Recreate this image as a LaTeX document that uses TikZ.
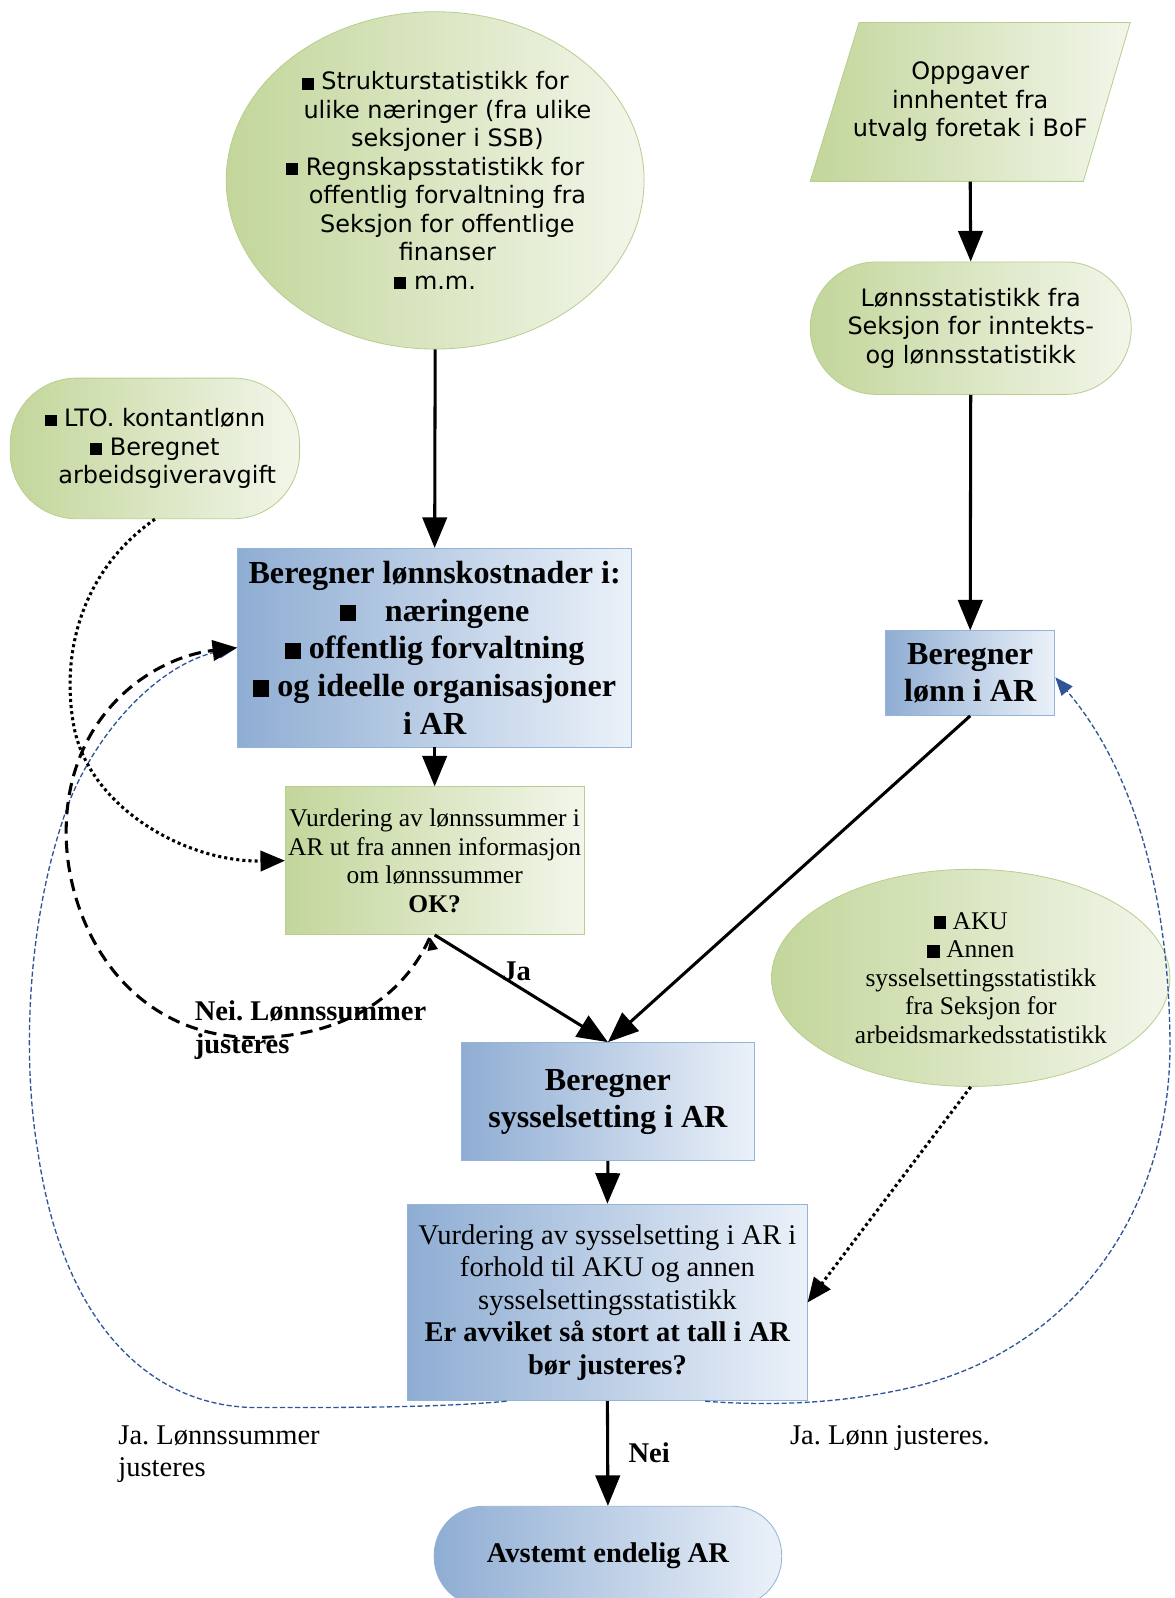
\documentclass[tikz,border=0pt]{standalone}
\usepackage{fontspec}
\setmainfont{Liberation Serif}
\newfontfamily\sansf{DejaVu Sans}
\usetikzlibrary{arrows.meta,shapes.geometric}
\definecolor{gL}{HTML}{C3D69B}
\definecolor{gR}{HTML}{F2F6EA}
\definecolor{gB}{HTML}{B9CE8E}
\definecolor{bL}{HTML}{8FADD3}
\definecolor{bR}{HTML}{EBF1F9}
\definecolor{bB}{HTML}{95B3D7}
\definecolor{dblue}{HTML}{2F5597}
\newcommand{\bul}{\rule{0.5em}{0.5em}}
\newcommand{\rs}[1]{\hspace*{#1}}
\frenchspacing
\begin{document}
\begin{tikzpicture}[x=1pt,y=-1pt,
  greenfill/.style={left color=gL,right color=gR,draw=gB,line width=0.8pt},
  bluefill/.style={left color=bL,right color=bR,draw=bB,line width=0.8pt},
  sanstxt/.style={font=\sansf\fontsize{23.5}{28}\selectfont,align=center},
  sertxt/.style={font=\fontsize{25}{28}\selectfont,align=center},
  bigbold/.style={font=\bfseries\fontsize{31.5}{37}\selectfont,align=center},
  box/.style={rectangle,inner sep=0pt},
  mainarrow/.style={line width=3pt,-{Triangle[length=30pt,width=24pt]}},
  dotarrow/.style={line width=3pt,dash pattern=on 3pt off 3pt,-{Triangle[length=24pt,width=20pt]}},
  dasharrow/.style={line width=3pt,dash pattern=on 12pt off 7pt,-{Triangle[length=24pt,width=20pt]}},
  bluearrow/.style={draw=dblue,line width=1.3pt,dash pattern=on 5pt off 2.5pt,-{Triangle[length=18pt,width=14pt]}},
  lbl/.style={font=\fontsize{28}{32}\selectfont,align=left,inner sep=0pt},
]
\useasboundingbox (0,0) rectangle (1152,1568);

% green sources
\node (top) [ellipse,inner sep=0pt,greenfill,minimum width=410pt,minimum height=331pt] at (427,177) {};
\node (toptxt) [box,sanstxt] at (top.center)
  {\bul\ Strukturstatistikk for\\\rs{24pt}ulike næringer (fra ulike\\\rs{24pt}seksjoner i SSB)\\\bul\ Regnskapsstatistikk for\\\rs{24pt}offentlig forvaltning fra\\\rs{24pt}Seksjon for offentlige\\\rs{24pt}finanser\\\bul\ m.m.};

\path[greenfill] (843,22) -- (1109,22) -- (1063,178) -- (795,178) -- cycle;
\node (par) [box,minimum width=268pt,minimum height=156pt,sanstxt] at (952,100)
  {Oppgaver\\innhentet fra\\utvalg foretak i BoF};

\node (lst) [box,greenfill,rounded corners=65pt,minimum width=315pt,minimum height=130pt,sanstxt] at (952.5,322)
  {Lønnsstatistikk fra\\Seksjon for inntekts-\\og lønnsstatistikk};

\node (lto) [box,greenfill,rounded corners=65pt,minimum width=284pt,minimum height=138pt,sanstxt] at (152,440)
  {\bul\ LTO. kontantlønn\\\bul\ Beregnet\\\rs{24pt}arbeidsgiveravgift};

% process boxes
\node (b1) [box,bluefill,minimum width=387pt,minimum height=195pt,bigbold] at (426.5,635.5)
  {Beregner lønnskostnader i:\\\bul\hspace{0.9em}næringene\\\bul\ offentlig forvaltning\\\bul\ og ideelle organisasjoner\\i AR};

\node (v1) [box,greenfill,minimum width=293pt,minimum height=145pt,sertxt] at (426.5,844.5)
  {Vurdering av lønnssummer i\\AR ut fra annen informasjon\\om lønnssummer\\\textbf{OK?}};

\node (bl) [box,bluefill,minimum width=166pt,minimum height=83pt,font=\bfseries\fontsize{31.5}{36}\selectfont,align=center] at (952,660.5)
  {Beregner\\lønn i AR};

\node (aku) [ellipse,inner sep=0pt,greenfill,minimum width=391pt,minimum height=213pt] at (952.5,959.5) {};
\node (akutxt) [box,sertxt] at (aku.center)
  {\bul\ AKU\\\bul\ Annen\\\rs{20pt}sysselsettingsstatistikk\\\rs{20pt}fra Seksjon for\\\rs{20pt}arbeidsmarkedsstatistikk};

\node (bs) [box,bluefill,minimum width=287pt,minimum height=116pt,font=\bfseries\fontsize{31.5}{36}\selectfont,align=center] at (596.5,1081)
  {Beregner\\sysselsetting i AR};

\node (vs) [box,bluefill,minimum width=392pt,minimum height=193pt,font=\fontsize{28}{32}\selectfont,align=center] at (596,1278)
  {Vurdering av sysselsetting i AR i\\forhold til AKU og annen\\sysselsettingsstatistikk\\\textbf{Er avviket så stort at tall i AR}\\\textbf{bør justeres?}};

\node (av) [box,bluefill,rounded corners=48pt,minimum width=341pt,minimum height=98pt,font=\bfseries\fontsize{28}{32}\selectfont] at (596.5,1527)
  {Avstemt endelig AR};

% solid arrows
\draw[mainarrow] (top.south) -- (b1.north);
\draw[mainarrow] (par.south) -- (lst.north);
\draw[mainarrow] (lst.south) -- (bl.north);
\draw[mainarrow] (b1.south) -- (v1.north);
\draw[mainarrow] (v1.south) -- (bs.north);
\draw[mainarrow] (bl.south) -- (bs.north);
\draw[mainarrow] (bs.south) -- (vs.north);
\draw[mainarrow] (vs.south) -- (av.north);

% blue feedback curves
\draw[bluearrow] ([xshift=-99pt]vs.south) .. controls (420,1382) and (320,1381) .. (245,1381)
  .. controls (140,1377) and (60,1290) .. (37,1129)
  .. controls (22,1040) and (25,900) .. (69,784)
  .. controls (100,710) and (160,650) .. (b1.west);
\draw[bluearrow] ([xshift=96pt]vs.south) .. controls (760,1380) and (830,1377) .. (900,1360)
  .. controls (1060,1320) and (1150,1180) .. (1148,1020)
  .. controls (1146,850) and (1100,740) .. ([yshift=-4pt]bl.east);

% dotted inputs
\draw[dotarrow] (lto.south) .. controls (80,560) and (60,640) .. (72,710)
  .. controls (85,790) and (180,846) .. (v1.west);
\draw[dotarrow] (aku.south) -- (vs.east);

% dashed loop
\draw[line width=2pt,-{Triangle[length=12pt,width=10pt]}] ([xshift=-2pt,yshift=-14pt]v1.south) -- ([xshift=-4pt,yshift=-3pt]v1.south);
\draw[dasharrow] ([xshift=-5pt,yshift=-3pt]v1.south) .. controls (390,990) and (320,1018) .. (250,1018)
  .. controls (120,1018) and (62,900) .. (65,810)
  .. controls (68,700) and (150,645) .. (b1.west);

% labels
\node (ja) [lbl,font=\bfseries\fontsize{28}{32}\selectfont] at (507,953) {Ja};
\node (neilbl) [lbl,font=\bfseries\fontsize{28}{32}\selectfont,anchor=west] at (191,1011) {Nei. Lønnssummer\\justeres};
\node (nei) [lbl,font=\bfseries\fontsize{28}{32}\selectfont] at (637,1425) {Nei};
\node (jal) [lbl,anchor=west] at (116,1427) {Ja. Lønnssummer\\justeres};
\node (jar) [lbl,anchor=west] at (775,1411) {Ja. Lønn justeres.};
\end{tikzpicture}
\end{document}
